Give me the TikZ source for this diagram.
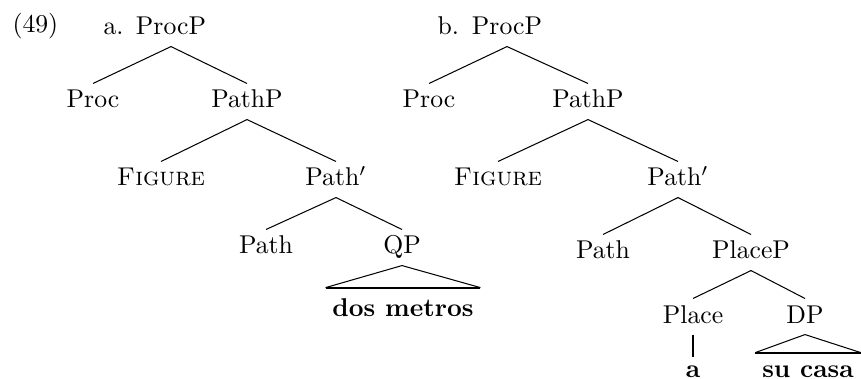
\documentclass[tikz,border=0pt]{standalone}
\begin{document}
\begin{tikzpicture}[x=0.389pt,y=-0.389pt,
  lbl/.style={anchor=base west, inner sep=0pt},
  tn/.style={anchor=base, inner xsep=0pt, inner ysep=2.5pt, text height=6.83pt, text depth=1.8pt},
  roof/.style={anchor=base, inner xsep=2.5pt, inner ysep=3.9pt, text height=6.94pt, text depth=0pt, font=\bfseries},
  branch/.style={line width=0.4pt},
  roofbase/.style={line width=0.8pt}]
\useasboundingbox (0,0) rectangle (861,379);
% labels
\node[lbl] (ex) at (12,33) {(49)};
\node[lbl] (alab) at (103,35) {a.};
\node[lbl] (blab) at (437,35) {b.};
% tree a
\node[tn] (aProcP) at (171,35) {ProcP};
\node[tn] (aProc) at (93,108) {Proc};
\node[tn] (aPathP) at (247,108) {PathP};
\node[tn] (aFig) at (161,186) {\textsc{Figure}};
\node[tn] (aPathb) at (336,186) {Path$'$};
\node[tn] (aPath) at (266,254) {Path};
\node[tn] (aQP) at (402,254) {QP};
\node[roof] (aDM) at (403,316) {dos metros};
\draw[branch] (aProcP.south) -- (aProc.north);
\draw[branch] (aProcP.south) -- (aPathP.north);
\draw[branch] (aPathP.south) -- (aFig.north);
\draw[branch] (aPathP.south) -- (aPathb.north);
\draw[branch] (aPathb.south) -- (aPath.north);
\draw[branch] (aPathb.south) -- (aQP.north);
\draw[branch] (aDM.north west) -- (aQP.south) -- (aDM.north east);
\draw[roofbase] (aDM.north west) -- (aDM.north east);
% tree b
\node[tn] (bProcP) at (507,35) {ProcP};
\node[tn] (bProc) at (429,108) {Proc};
\node[tn] (bPathP) at (588,108) {PathP};
\node[tn] (bFig) at (498,186) {\textsc{Figure}};
\node[tn] (bPathb) at (678,186) {Path$'$};
\node[tn] (bPath) at (603,259) {Path};
\node[tn] (bPlaceP) at (751,259) {PlaceP};
\node[tn] (bPlace) at (693,323) {Place};
\node[tn] (bDP) at (805,323) {DP};
\node[tn, text height=5pt, font=\bfseries] (ba) at (693,377) {a};
\node[roof, text height=5.4pt] (bSC) at (808,377) {su casa};
\draw[branch] (bProcP.south) -- (bProc.north);
\draw[branch] (bProcP.south) -- (bPathP.north);
\draw[branch] (bPathP.south) -- (bFig.north);
\draw[branch] (bPathP.south) -- (bPathb.north);
\draw[branch] (bPathb.south) -- (bPath.north);
\draw[branch] (bPathb.south) -- (bPlaceP.north);
\draw[branch] (bPlaceP.south) -- (bPlace.north);
\draw[branch] (bPlaceP.south) -- (bDP.north);
\draw[roofbase] (bPlace.south) -- (ba.north);
\draw[branch] (bSC.north west) -- (bDP.south) -- (bSC.north east);
\draw[roofbase] (bSC.north west) -- (bSC.north east);
\end{tikzpicture}
\end{document}
